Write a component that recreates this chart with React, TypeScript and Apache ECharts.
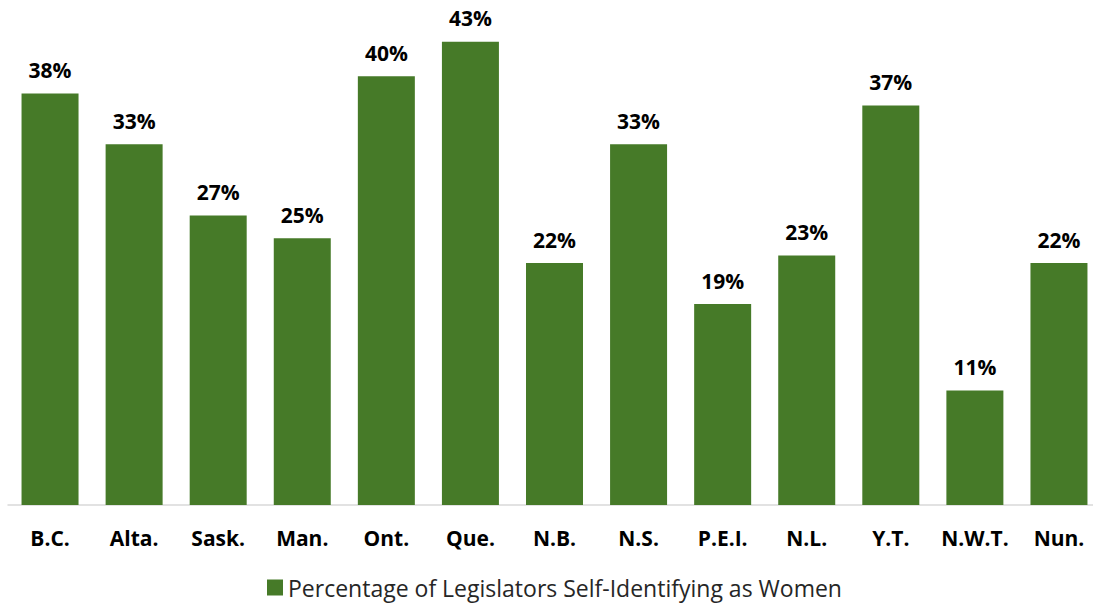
import React, { useEffect, useRef } from "react";
import * as echarts from "echarts";

const categories = ["B.C.", "Alta.", "Sask.", "Man.", "Ont.", "Que.", "N.B.", "N.S.", "P.E.I.", "N.L.", "Y.T.", "N.W.T.", "Nun."];
const values = [38.1, 33.4, 26.8, 24.7, 39.7, 42.9, 22.4, 33.4, 18.6, 23.1, 37.0, 10.6, 22.4];
const seriesName = "Percentage of Legislators Self-Identifying as Women";

export default function App() {
  const ref = useRef<HTMLDivElement>(null);
  useEffect(() => {
    if (!ref.current) return;
    const chart = echarts.init(ref.current, undefined, { renderer: "svg" });
    chart.setOption({
      animation: false,
      backgroundColor: "#ffffff",
      textStyle: { fontFamily: "'Open Sans', sans-serif" },
      grid: { left: 8, width: 1093, top: 19, bottom: 100, containLabel: false },
      legend: {
        data: [seriesName],
        left: 262,
        top: 571,
        itemWidth: 16,
        itemHeight: 16,
        itemGap: 10,
        icon: "rect",
        textStyle: { fontSize: 23, color: "#262626", fontFamily: "'Open Sans', sans-serif" },
      },
      xAxis: {
        type: "category",
        data: categories,
        axisLine: { show: true, lineStyle: { color: "#d9d9d9", width: 1.5 } },
        axisTick: { show: false },
        axisLabel: {
          interval: 0,
          margin: 22,
          fontSize: 21,
          fontWeight: "bold",
          color: "#000000",
          fontFamily: "'Open Sans', sans-serif",
        },
      },
      yAxis: {
        type: "value",
        min: 0,
        max: 45,
        show: false,
        splitLine: { show: false },
      },
      series: [
        {
          name: seriesName,
          type: "bar",
          data: values,
          barWidth: 57,
          itemStyle: { color: "#467a28" },
          label: {
            show: true,
            position: "top",
            distance: 13,
            fontSize: 21,
            fontWeight: "bold",
            color: "#000000",
            fontFamily: "'Open Sans', sans-serif",
            formatter: (p: any) => Math.round(p.value) + "%",
          },
        },
      ],
    });
    return () => chart.dispose();
  }, []);
  return (
    <div
      ref={ref}
      style={{ position: "fixed", left: 0, top: 0, width: 1110, height: 605, background: "#fff" }}
    />
  );
}
